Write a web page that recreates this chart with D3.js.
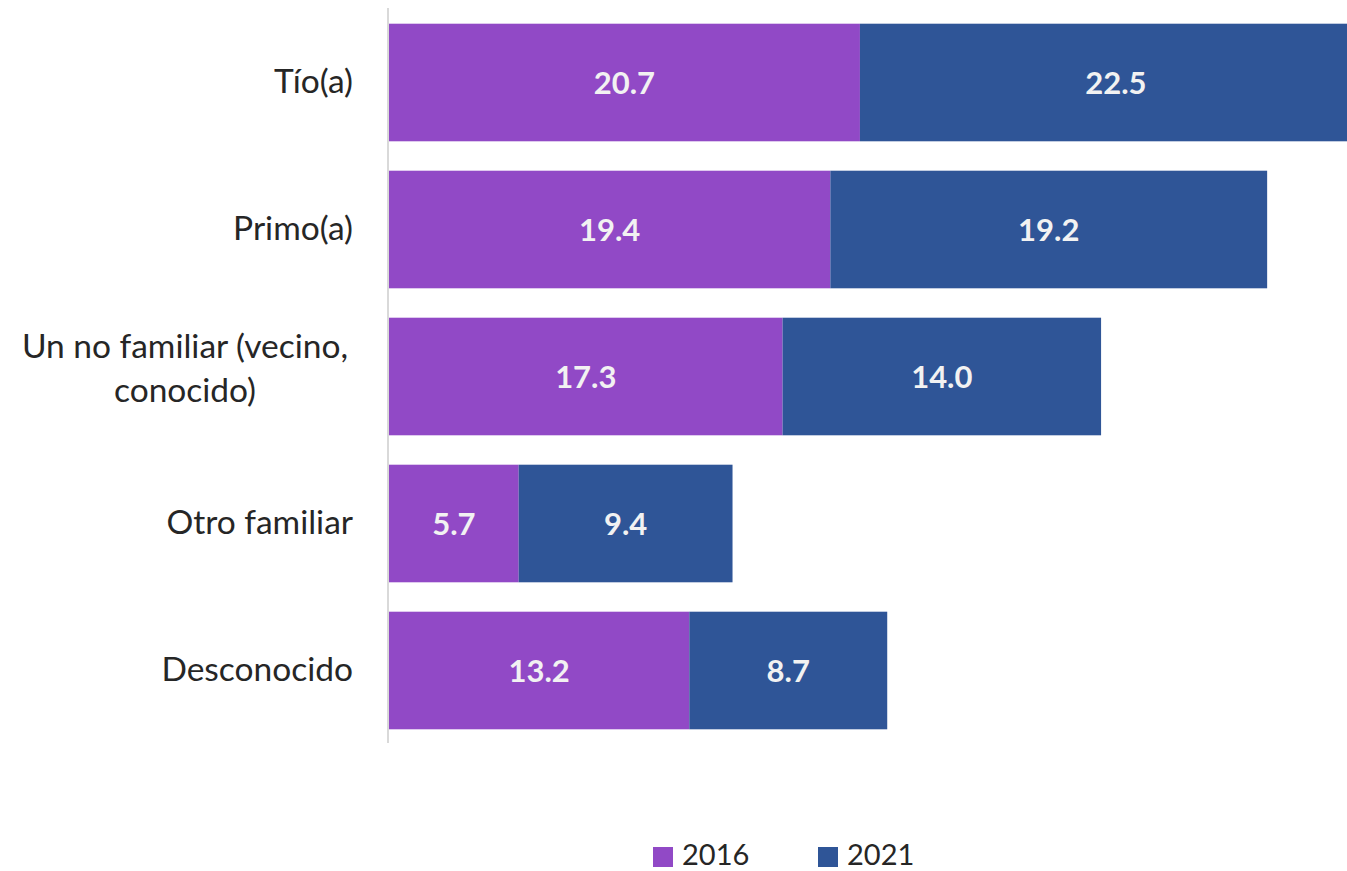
<!DOCTYPE html>
<html><head><meta charset="utf-8">
<script src="https://cdn.jsdelivr.net/npm/d3@7"></script>
<style>body{margin:0;background:#fff}svg{display:block}</style>
</head><body>
<svg id="c" width="1347" height="871"></svg>
<script>
const categories = ["Tío(a)", "Primo(a)", "Un no familiar (vecino,|conocido)", "Otro familiar", "Desconocido"];
const series = ["2016", "2021"];
const values2016 = [20.7, 19.4, 17.3, 5.7, 13.2];
const values2021 = [22.5, 19.2, 14.0, 9.4, 8.7];
const colors = ["#9149C6", "#2F5597"];

const svg = d3.select("#c");
const fontFam = "Lato, 'Open Sans', sans-serif";

const x = d3.scaleLinear().domain([0, 45]).range([389, 389 + 22.75 * 45]);
const y = d3.scaleBand().domain(categories).range([9, 744]).paddingInner(0.2).paddingOuter(0.1);

const data = categories.map((c, i) => ({cat: c, v: [values2016[i], values2021[i]]}));
const stack = d3.stack().keys([0, 1]).value((d, k) => d.v[k]);
const stacked = stack(data);

// axis line
svg.append("line").attr("x1", 388).attr("x2", 388).attr("y1", 8).attr("y2", 743)
  .attr("stroke", "#d9d9d9").attr("stroke-width", 2);

stacked.forEach((layer, k) => {
  const g = svg.append("g");
  g.selectAll("rect").data(layer).join("rect")
    .attr("x", d => x(d[0])).attr("width", d => x(d[1]) - x(d[0]))
    .attr("y", d => y(d.data.cat)).attr("height", y.bandwidth())
    .attr("fill", colors[k]);
  g.selectAll("text").data(layer).join("text")
    .attr("x", d => (x(d[0]) + x(d[1])) / 2)
    .attr("y", d => y(d.data.cat) + y.bandwidth() / 2 + 11.5)
    .attr("text-anchor", "middle")
    .attr("fill", "#f2f2f2").attr("font-weight", "bold")
    .attr("font-family", fontFam).attr("font-size", 31)
    .text(d => d.data.v[k].toFixed(1));
});

// category labels
categories.forEach(c => {
  const lines = c.split("|");
  const cy = y(c) + y.bandwidth() / 2;
  const t = svg.append("text").attr("text-anchor", lines.length > 1 ? "middle" : "end")
    .attr("font-family", fontFam).attr("font-size", 33.5).attr("fill", "#262626");
  if (lines.length > 1) {
    const base = [cy - 18.5, cy + 25.5];
    lines.forEach((l, i) => {
      t.append("tspan").attr("x", 185).attr("y", base[i]).text(l);
    });
  } else {
    t.attr("x", 353).attr("y", cy + 10).text(lines[0]);
  }
});

// legend
const legX = [653, 818];
series.forEach((s, i) => {
  svg.append("rect").attr("x", legX[i]).attr("y", 847).attr("width", 20).attr("height", 20).attr("fill", colors[i]);
  svg.append("text").attr("x", legX[i] + 29).attr("y", 865)
    .attr("font-family", fontFam).attr("font-size", 29).attr("fill", "#262626").text(s);
});
</script>
</body></html>
